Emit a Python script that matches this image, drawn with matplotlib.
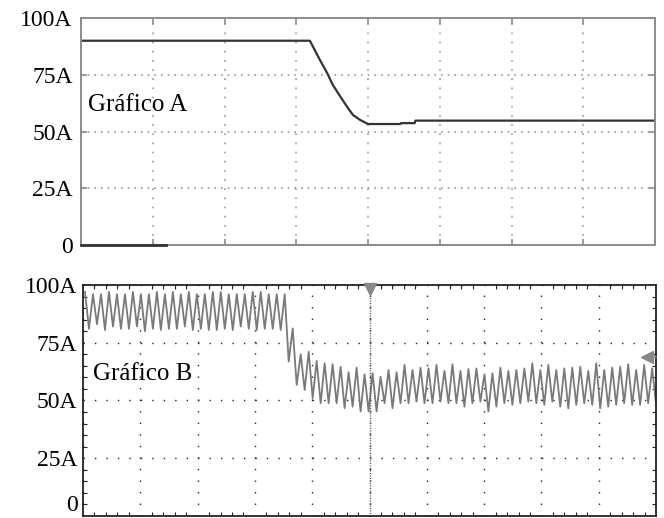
import numpy as np
import matplotlib
matplotlib.use("Agg")
import matplotlib.pyplot as plt
import matplotlib.transforms as mtransforms
from matplotlib.ticker import MultipleLocator

plt.rcParams['font.family'] = ['Liberation Serif', 'DejaVu Serif']

# eixo do tempo em divisoes do osciloscopio
yticks = [0, 25, 50, 75, 100]
ytick_labels = ['0', '25A', '50A', '75A', '100A']

# Gráfico A (referencia de corrente)
a_time = [0, 3.19, 3.33, 3.43, 3.51, 3.61, 3.71, 3.79, 3.89, 4.0, 4.45, 4.46, 4.65, 4.66, 8]
a_curr = [90, 90, 81.5, 75.8, 70.5, 65.6, 60.8, 57.3, 55.1, 53.3, 53.3, 53.7, 53.7, 54.8, 54.8]
a_zero_time = [0, 1.18]
a_zero_curr = [0, 0]

# Gráfico B (corrente medida): picos e vales de cada ciclo
b_peaks = [97, 96, 96, 97, 96, 96, 97, 96, 96, 97, 96, 97, 96, 97, 96, 96, 97, 97, 96, 96,
           96, 97, 97, 96, 96, 96,
           81.2, 70, 71.1, 67.1, 66.1, 65.7, 64.6, 62.2, 64.2, 61.3, 61.8, 60.3, 63.2, 62.2,
           65.4, 63.2, 64.2, 63.9, 65.4, 62.8, 65.7, 62.8, 63.6, 63.9, 61.3, 61.8, 64.2, 62.8,
           63.2, 63.9, 66.1, 63.2, 65.4, 63.2, 63.9, 64.2, 64.6, 62.8, 66.1, 63.2, 64.2, 64.6,
           65.7, 63.2, 65.4, 63.9]
b_valleys = [81, 83, 80.5, 82, 81, 81, 82, 80, 81, 80.5, 81, 81, 82, 80.5, 81, 80.5, 80.5, 81,
             80.5, 82, 81, 80.5, 81, 81, 80.5,
             66.8, 56.7, 54.5, 51, 48.8, 48.8, 48.8, 46.6, 47.3, 45.2, 45.2, 45.2, 48.8, 46.6,
             48.8, 48.8, 49.5, 48.8, 48.8, 49.5, 48.8, 48.8, 47.3, 48.8, 49.5, 45.2, 47.3, 48.8,
             48.1, 48.8, 49.5, 48.8, 48.1, 49.5, 47.3, 46.6, 48.1, 48.8, 48.1, 46.6, 47.3, 48.1,
             48.8, 48.1, 48.1, 48.8, 48]
b_start = 0.035   # primeiro pico (div)
b_period = 0.1394  # periodo da ondulacao (div)

b_curr = np.ravel(np.column_stack([b_peaks, b_valleys]))
b_time = b_start + np.arange(len(b_curr)) * b_period / 2

fig = plt.figure(figsize=(6.64, 5.18), dpi=100)
axA = fig.add_axes([0.122, 0.527, 0.8645, 0.4382])
axB = fig.add_axes([0.125, 0.0039, 0.863, 0.446])

# ---- Gráfico A
axA.plot(a_time, a_curr, color='#333333', lw=1.6)
axA.plot(a_zero_time, a_zero_curr, color='#333333', lw=2.0, clip_on=False, zorder=5)
axA.set_xlim(0, 8)
axA.set_ylim(0, 100)
axA.set_xticks(range(0, 9))
axA.set_yticks(yticks)
axA.set_yticklabels(ytick_labels)
axA.xaxis.grid(True, color='#999999', lw=1.2, linestyle=(0, (1, 4.5)))
axA.yaxis.grid(True, color='#999999', lw=1.2, linestyle=(0, (1, 3)))
axA.tick_params(direction='in', length=4, width=1.2, color='#8c8c8c',
                top=True, right=True, labelbottom=False, labelsize=17, pad=6)
for s in axA.spines.values():
    s.set_color('#8c8c8c')
    s.set_linewidth(1.4)
axA.text(0.1, 59.0, 'Gráfico A', fontsize=18, va='baseline', ha='left')

# ---- Gráfico B
axB.plot(b_time, b_curr, color='#7a7a7a', lw=1.3)
axB.set_xlim(0, 10)
axB.set_ylim(0, 100)
axB.set_xticks(range(0, 11))
axB.set_yticks(yticks)
axB.set_yticklabels(ytick_labels)
axB.xaxis.set_minor_locator(MultipleLocator(0.2))
axB.yaxis.set_minor_locator(MultipleLocator(5))
axB.xaxis.grid(True, color='#222222', lw=1.0, linestyle=(0, (1, 7.32)))
axB.yaxis.grid(True, color='#222222', lw=1.0, linestyle=(0, (1, 7.25)))
axB.axvline(5, color='#555555', lw=1.0, linestyle=(0, (0.8, 1.0)))
axB.tick_params(which='both', direction='in', color='#222222', top=True, right=True,
                labelbottom=False, labelsize=17, pad=4)
axB.tick_params(which='major', length=0)
axB.tick_params(which='minor', length=3, width=0.8)
for s in axB.spines.values():
    s.set_color('#222222')
    s.set_linewidth(1.3)
axB.text(0.17, 58.9, 'Gráfico B', fontsize=18, va='baseline', ha='left')

# o "0" de baixo fica encostado na borda; sobe um pouco para nao cortar
zero_lbl = axB.get_yticklabels()[0]
zero_lbl.set_transform(zero_lbl.get_transform() +
                       mtransforms.ScaledTranslation(0, 9 / 72, fig.dpi_scale_trans))

# marcadores do osciloscopio
axB.plot([5.0], [98.3], marker='v', markersize=9, color='#888888', clip_on=False, zorder=6)
axB.plot([9.84], [68.8], marker='<', markersize=8, color='#888888', clip_on=False, zorder=6)
axB.plot([9.84, 10], [68.8, 68.8], color='#888888', lw=1.2, clip_on=False, zorder=6)

plt.savefig('out.png', dpi=100)
